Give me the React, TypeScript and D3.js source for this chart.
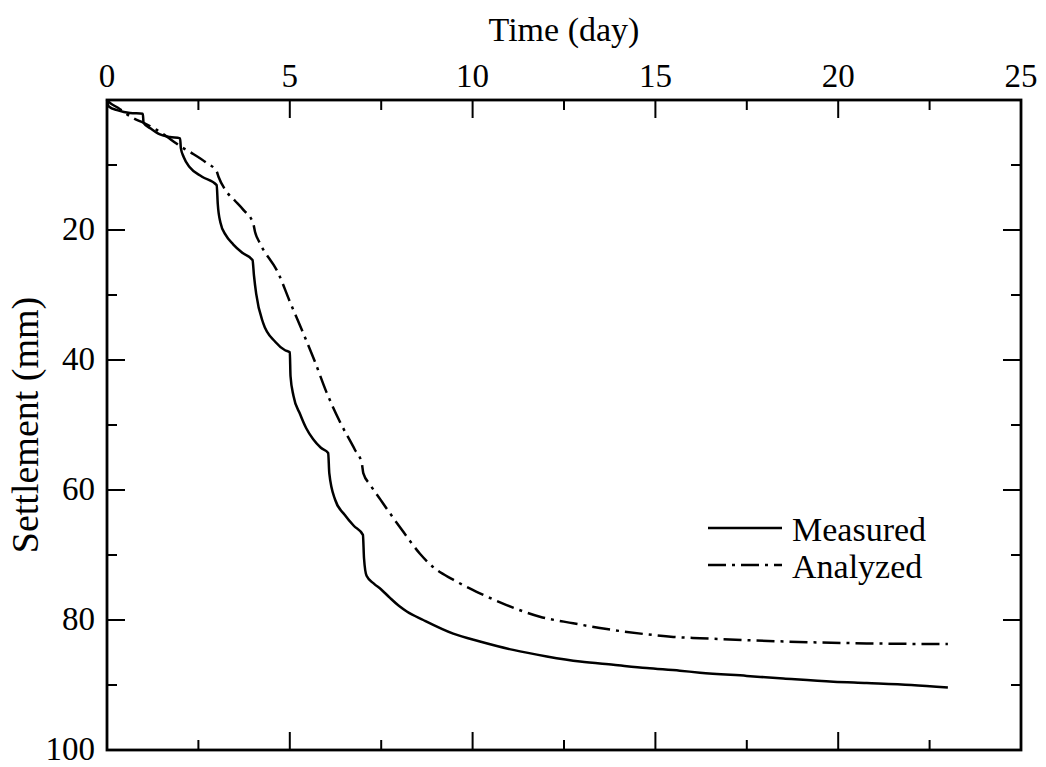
import React from "react";
import * as d3 from "d3";

// Settlement record: [time (day), settlement (mm)]
const measured: [number, number][] = [
  [0, 0], [0.05, 1.0], [0.3, 1.6], [0.63, 2.0], [0.98, 2.1],
  [1.0, 3.5], [1.2, 4.4], [1.45, 5.3], [1.72, 5.7], [2.0, 5.9],
  [2.02, 7.4], [2.1, 8.8], [2.27, 10.4], [2.6, 11.8], [3.0, 13.1],
  [3.03, 16], [3.1, 18.8], [3.25, 20.8], [3.45, 22.2], [3.7, 23.5], [3.98, 24.6],
  [4.02, 27], [4.08, 29.8], [4.27, 34.3], [4.6, 37.2], [4.87, 38.5], [5.0, 38.8],
  [5.02, 42.5], [5.1, 45.5], [5.28, 48.3], [5.45, 50.5], [5.64, 52.2], [5.85, 53.5], [6.05, 54.3],
  [6.08, 57.4], [6.24, 61.5], [6.5, 63.8], [6.75, 65.5], [7.0, 66.9],
  [7.03, 70.5], [7.1, 73.2], [7.3, 74.4], [7.5, 75.3], [7.74, 76.6], [8.0, 77.9], [8.2, 78.7], [8.65, 80],
  [9.47, 82.1], [10.2, 83.3], [11.11, 84.6], [12.03, 85.6], [12.94, 86.4],
  [13.85, 86.9], [14.76, 87.4], [15.67, 87.8], [16.22, 88.1], [17.5, 88.6],
  [18.5, 89.0], [19.87, 89.5], [20.78, 89.7], [22, 90.0], [23.0, 90.4],
];

const analyzed: [number, number][] = [
  [0, 0], [0.05, 0.3], [0.3, 1.2], [0.72, 2.8], [1.0, 3.5], [1.36, 4.6],
  [1.9, 6.7], [2.0, 7.1], [2.3, 8.1], [2.73, 9.7], [3.0, 11.0], [3.05, 11.8],
  [3.27, 14.1], [3.5, 15.5], [3.73, 16.9], [4.0, 19.0], [4.05, 20.3], [4.18, 22],
  [4.69, 26.7], [5.0, 31], [5.37, 35.9], [5.69, 40.3], [6.0, 44.9], [6.37, 49.5],
  [6.78, 53.8], [6.97, 55.9], [7.01, 57.4], [7.2, 59.2], [7.47, 61.4], [7.83, 64.3], [8.1, 66.4],
  [8.56, 69.8], [8.93, 71.9], [9.47, 73.8], [10.2, 75.9], [10.93, 77.7], [11.84, 79.5],
  [12.75, 80.5], [13.67, 81.4], [14.76, 82.2], [15.49, 82.6], [16.22, 82.8],
  [18.5, 83.3], [20.78, 83.6], [23.0, 83.7],
];

const xMajor = [0, 5, 10, 15, 20, 25];
const xMinor = [2.5, 7.5, 12.5, 17.5, 22.5];
const yMajor = [0, 20, 40, 60, 80, 100];
const yMinor = [10, 30, 50, 70, 90];

const seriesNames = ["Measured", "Analyzed"];

const W = 1046;
const H = 767;
const L = 107, R = 1021, T = 100, B = 750;
const FONT = "'Liberation Serif', 'Times New Roman', serif";
const DASH = "18,6,3,6";

export default function App() {
  const x = d3.scaleLinear().domain([0, 25]).range([L, R]);
  const y = d3.scaleLinear().domain([0, 100]).range([T, B]);
  const line = d3
    .line<[number, number]>()
    .x((d) => x(d[0]))
    .y((d) => y(d[1]))
    .curve(d3.curveMonotoneX);

  const major = 18;
  const minor = 10;

  return (
    <svg
      width={W}
      height={H}
      style={{ position: "absolute", left: 0, top: 0, background: "#fff" }}
      fontFamily={FONT}
    >
      <rect x={0} y={0} width={W} height={H} fill="#fff" />

      {/* ticks on all four sides, pointing inward */}
      <g stroke="#000" strokeWidth={2}>
        {xMajor.map((v) => (
          <g key={"xM" + v}>
            <line x1={x(v)} x2={x(v)} y1={T} y2={T + major} />
            <line x1={x(v)} x2={x(v)} y1={B} y2={B - major} />
          </g>
        ))}
        {xMinor.map((v) => (
          <g key={"xm" + v}>
            <line x1={x(v)} x2={x(v)} y1={T} y2={T + minor} />
            <line x1={x(v)} x2={x(v)} y1={B} y2={B - minor} />
          </g>
        ))}
        {yMajor.map((v) => (
          <g key={"yM" + v}>
            <line x1={L} x2={L + major} y1={y(v)} y2={y(v)} />
            <line x1={R} x2={R - major} y1={y(v)} y2={y(v)} />
          </g>
        ))}
        {yMinor.map((v) => (
          <g key={"ym" + v}>
            <line x1={L} x2={L + minor} y1={y(v)} y2={y(v)} />
            <line x1={R} x2={R - minor} y1={y(v)} y2={y(v)} />
          </g>
        ))}
      </g>

      {/* curves */}
      <path d={line(measured) ?? ""} fill="none" stroke="#000" strokeWidth={2.5} />
      <path
        d={line(analyzed) ?? ""}
        fill="none"
        stroke="#000"
        strokeWidth={2.5}
        strokeDasharray={DASH}
      />

      {/* frame */}
      <rect x={L} y={T} width={R - L} height={B - T} fill="none" stroke="#000" strokeWidth={2.8} />

      {/* tick labels */}
      <g fontSize={33} fill="#000">
        {xMajor.map((v) => (
          <text key={"xl" + v} x={x(v)} y={T - 13} textAnchor="middle">
            {v}
          </text>
        ))}
        {yMajor
          .filter((v) => v !== 0)
          .map((v) => (
            <text key={"yl" + v} x={L - 12} y={y(v)} dy="0.3em" textAnchor="end">
              {v}
            </text>
          ))}
      </g>

      {/* axis titles */}
      <text x={(L + R) / 2} y={41} textAnchor="middle" fontSize={34}>
        Time (day)
      </text>
      <text
        transform={`translate(38,${(T + B) / 2}) rotate(-90)`}
        textAnchor="middle"
        fontSize={38}
      >
        Settlement (mm)
      </text>

      {/* legend */}
      <g>
        <line x1={708} x2={782} y1={528} y2={528} stroke="#000" strokeWidth={2.5} />
        <text x={792} y={541} fontSize={34}>
          {seriesNames[0]}
        </text>
        <line
          x1={708}
          x2={782}
          y1={565}
          y2={565}
          stroke="#000"
          strokeWidth={2.5}
          strokeDasharray={DASH}
        />
        <text x={792} y={578} fontSize={34}>
          {seriesNames[1]}
        </text>
      </g>
    </svg>
  );
}
